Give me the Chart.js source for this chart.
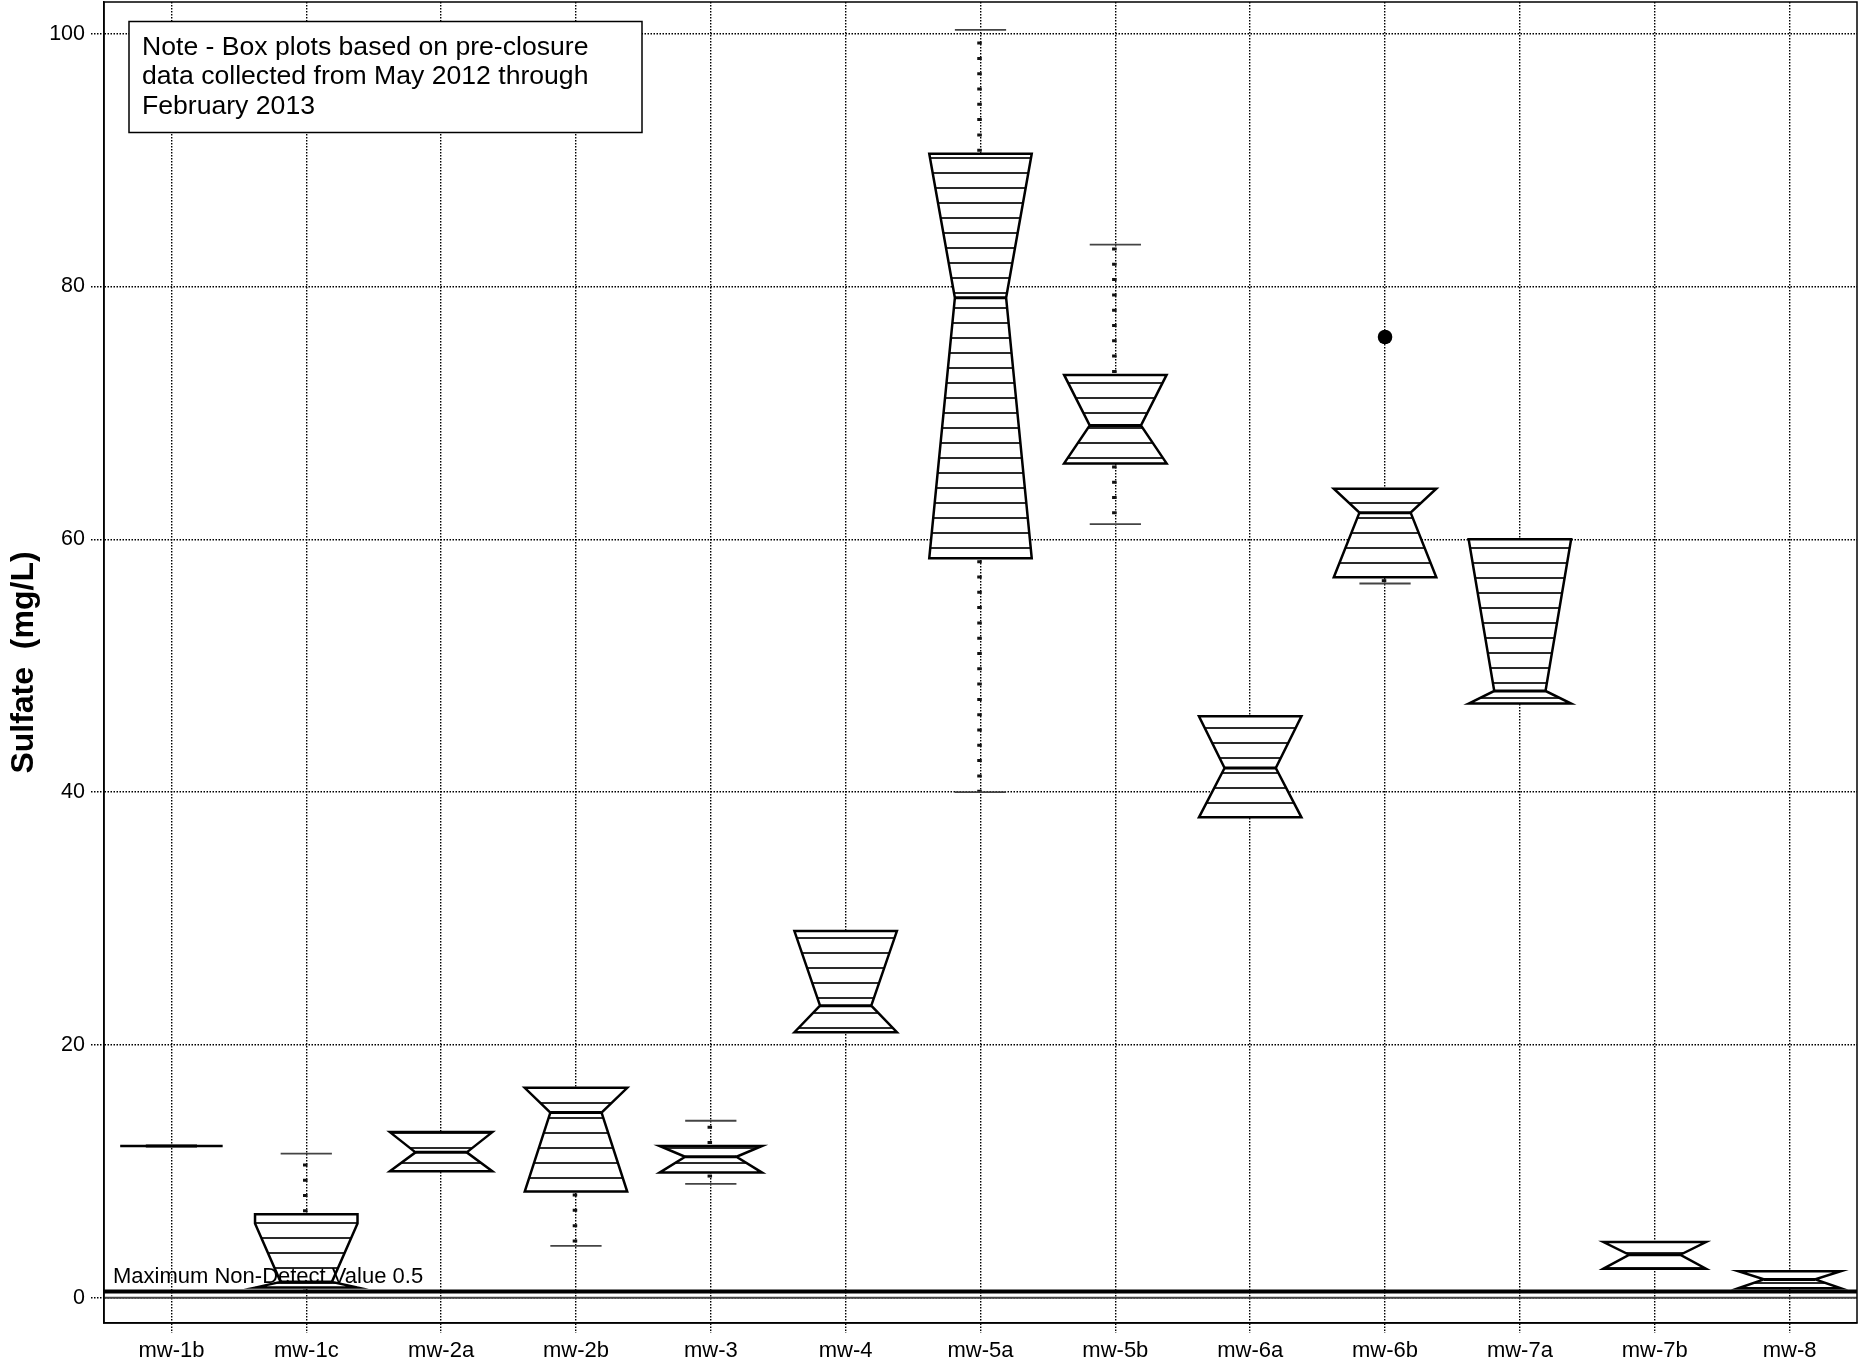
<!DOCTYPE html>
<html>
<head>
<meta charset="utf-8">
<script src="https://cdn.jsdelivr.net/npm/chart.js@4.4.1/dist/chart.umd.min.js"></script>
<style>
html,body{margin:0;padding:0;background:#fff;}
#wrap{width:1860px;height:1365px;position:relative;}
</style>
</head>
<body>
<div id="wrap"><canvas id="c" width="1860" height="1365"></canvas></div>
<script>
// ---------------- data ----------------
const categories  = ['mw-1b','mw-1c','mw-2a','mw-2b','mw-3','mw-4','mw-5a','mw-5b','mw-6a','mw-6b','mw-7a','mw-7b','mw-8'];
const whiskerLow  = [12.0, 0.54, 10.0,  4.1,  9.0, 21.0,  40.0, 61.2, 38.0, 56.5, 47.0, 2.3, 0.75];
const quart1      = [12.0, 0.80, 10.0,  8.4,  9.9, 21.0,  58.5, 66.0, 38.0, 57.0, 47.0, 2.3, 0.75];
const notchLow    = [12.0, 0.80, 10.0,  8.4,  9.9, 21.0,  58.5, 66.0, 38.0, 57.0, 47.0, 2.3, 0.75];
const medians     = [12.0, 1.25, 11.5, 14.65, 11.15, 23.1, 79.1, 69.0, 41.9, 62.1, 48.0, 3.4, 1.45];
const notchHigh   = [12.0, 5.87, 13.1, 16.6, 12.0, 29.0,  90.5, 73.0, 46.0, 64.0, 60.0, 4.4, 2.1];
const quart3      = [12.0, 6.60, 13.1, 16.6, 12.0, 29.0,  90.5, 73.0, 46.0, 64.0, 60.0, 4.4, 2.1];
const whiskerHigh = [12.0, 11.4, 13.1, 16.6, 14.0, 29.0, 100.3, 83.3, 46.0, 64.0, 60.0, 4.4, 2.1];
const outlierCats = ['mw-6b'];
const outlierVals = [76.0];
const yTicks = [0, 20, 40, 60, 80, 100];
const yMin = -2, yMax = 102.5;
const nonDetectValue = 0.5;
const nonDetectLabel = 'Maximum Non-Detect Value 0.5';
const noteLines = ['Note - Box plots based on pre-closure', 'data collected from May 2012 through', 'February 2013'];
const yTitle = 'Sulfate  (mg/L)';

// ---------------- styling ----------------
const FONT = '"Liberation Sans", Arial, Helvetica, sans-serif';
const BOX_FRAC = 0.76;
const HATCH_STEP = 15;
const DOT = [1.5, 1.5];

const boxPlugin = {
  id: 'notchedBoxes',
  beforeDatasetsDraw(chart) {
    const {ctx, chartArea, scales: {x, y}} = chart;
    const cw = x.getPixelForValue(1) - x.getPixelForValue(0);
    const hw = cw * BOX_FRAC / 2;
    const py = v => y.getPixelForValue(v);
    ctx.save();
    ctx.beginPath();
    ctx.rect(chartArea.left, chartArea.top, chartArea.width, chartArea.height);
    ctx.clip();
    categories.forEach((c, i) => {
      const cx = x.getPixelForValue(i);
      // whiskers
      ctx.strokeStyle = '#111';
      ctx.lineWidth = 4.5;
      ctx.setLineDash([3, 12.3]);
      if (whiskerHigh[i] > quart3[i]) {
        ctx.beginPath(); ctx.moveTo(cx - 1, py(quart3[i]) - 2); ctx.lineTo(cx - 1, py(whiskerHigh[i])); ctx.stroke();
      }
      if (whiskerLow[i] < quart1[i]) {
        ctx.beginPath(); ctx.moveTo(cx - 1, py(quart1[i]) + 2); ctx.lineTo(cx - 1, py(whiskerLow[i])); ctx.stroke();
      }
      ctx.setLineDash([]);
      // staples
      ctx.strokeStyle = '#444';
      ctx.lineWidth = 1.8;
      [[whiskerHigh[i], quart3[i]], [whiskerLow[i], quart1[i]]].forEach(([w, h]) => {
        if (Math.abs(w - h) > 0.01) {
          ctx.beginPath(); ctx.moveTo(cx - hw / 2, py(w)); ctx.lineTo(cx + hw / 2, py(w)); ctx.stroke();
        }
      });
      // notched box polygon
      const pts = [
        [-hw, quart1[i]], [-hw, notchLow[i]], [-hw / 2, medians[i]], [-hw, notchHigh[i]], [-hw, quart3[i]],
        [hw, quart3[i]], [hw, notchHigh[i]], [hw / 2, medians[i]], [hw, notchLow[i]], [hw, quart1[i]]
      ];
      const path = new Path2D();
      pts.forEach(([dx, v], k) => { const X = cx + dx, Y = py(v); if (k === 0) path.moveTo(X, Y); else path.lineTo(X, Y); });
      path.closePath();
      ctx.fillStyle = '#fff';
      ctx.fill(path);
      // hatching
      const yTop = py(quart3[i]), yBot = py(quart1[i]);
      ctx.save();
      ctx.clip(path);
      ctx.strokeStyle = '#2a2a2a';
      ctx.lineWidth = 2;
      const start = chartArea.top + 6;
      for (let yy = start + Math.ceil((yTop - start) / HATCH_STEP) * HATCH_STEP; yy < yBot; yy += HATCH_STEP) {
        ctx.beginPath(); ctx.moveTo(cx - hw, yy); ctx.lineTo(cx + hw, yy); ctx.stroke();
      }
      ctx.restore();
      ctx.strokeStyle = '#000';
      ctx.lineWidth = 2.5;
      ctx.lineJoin = 'miter';
      ctx.stroke(path);
      // median
      ctx.lineWidth = 3;
      ctx.beginPath(); ctx.moveTo(cx - hw / 2, py(medians[i])); ctx.lineTo(cx + hw / 2, py(medians[i])); ctx.stroke();
    });
    ctx.restore();
  },
  afterDatasetsDraw(chart) {
    const {ctx, chartArea, scales: {y}} = chart;
    ctx.save();
    // zero line
    ctx.strokeStyle = '#444';
    ctx.lineWidth = 2;
    ctx.beginPath(); ctx.moveTo(chartArea.left, y.getPixelForValue(0)); ctx.lineTo(chartArea.right, y.getPixelForValue(0)); ctx.stroke();
    // non-detect line
    const yn = y.getPixelForValue(nonDetectValue);
    ctx.strokeStyle = '#000';
    ctx.lineWidth = 4;
    ctx.beginPath(); ctx.moveTo(chartArea.left, yn); ctx.lineTo(chartArea.right, yn); ctx.stroke();
    ctx.fillStyle = '#000';
    ctx.font = '22px ' + FONT;
    ctx.textAlign = 'left';
    ctx.textBaseline = 'alphabetic';
    ctx.fillText(nonDetectLabel, chartArea.left + 9, yn - 8);
    ctx.restore();
  },
  afterDraw(chart) {
    const {ctx, chartArea} = chart;
    ctx.save();
    // frame
    ctx.strokeStyle = '#000';
    ctx.lineWidth = 1.5;
    ctx.strokeRect(chartArea.left, chartArea.top, chartArea.width, chartArea.height);
    // note box
    const bx = chartArea.left + 25, by = chartArea.top + 19.5, bw = 513, bh = 111;
    ctx.fillStyle = '#fff';
    ctx.fillRect(bx, by, bw, bh);
    ctx.lineWidth = 1.5;
    ctx.strokeRect(bx, by, bw, bh);
    ctx.fillStyle = '#000';
    ctx.font = '26.6px ' + FONT;
    ctx.textAlign = 'left';
    ctx.textBaseline = 'alphabetic';
    noteLines.forEach((t, k) => ctx.fillText(t, bx + 13, by + 33 + k * 29.7));
    ctx.restore();
  }
};

const outlierData = outlierCats.map((c, k) => ({x: c, y: outlierVals[k]}));

new Chart(document.getElementById('c'), {
  type: 'line',
  data: {
    labels: categories,
    datasets: [{
      label: 'outliers',
      data: outlierData,
      showLine: false,
      pointRadius: 7.3,
      pointBackgroundColor: '#000',
      pointBorderColor: '#000',
      pointBorderWidth: 0
    }]
  },
  options: {
    responsive: false,
    devicePixelRatio: 1,
    animation: false,
    layout: {autoPadding: false, padding: {top: 2, right: 3, left: 0, bottom: 0}},
    plugins: {legend: {display: false}, tooltip: {enabled: false}},
    scales: {
      x: {
        type: 'category',
        offset: true,
        grid: {
          display: true, offset: false, color: '#000', lineWidth: 1.4,
          drawTicks: true, tickLength: 10, tickColor: '#000', tickWidth: 1.4, tickBorderDash: DOT
        },
        border: {display: true, color: '#000', width: 1.5, dash: DOT},
        ticks: {color: '#000', font: {family: FONT, size: 22}, padding: 5, maxRotation: 0, autoSkip: false},
        afterFit(s) { s.height = 42; s.paddingLeft = 0; s.paddingRight = 0; }
      },
      y: {
        type: 'linear',
        min: yMin,
        max: yMax,
        afterBuildTicks(s) { s.ticks = yTicks.map(v => ({value: v})); },
        grid: {
          display: true, color: '#000', lineWidth: 1.4,
          drawTicks: true, tickLength: 13, tickColor: '#000', tickWidth: 1.4, tickBorderDash: DOT
        },
        border: {display: true, color: '#000', width: 1.5, dash: DOT},
        ticks: {color: '#000', font: {family: FONT, size: 21.5}, padding: 6},
        title: {display: true, text: yTitle, color: '#000', font: {family: FONT, size: 32, weight: 'bold'}, padding: {top: 5, bottom: 0}},
        afterFit(s) { s.width = 104; s.paddingTop = 0; s.paddingBottom = 0; }
      }
    }
  },
  plugins: [boxPlugin]
});
</script>
</body>
</html>
